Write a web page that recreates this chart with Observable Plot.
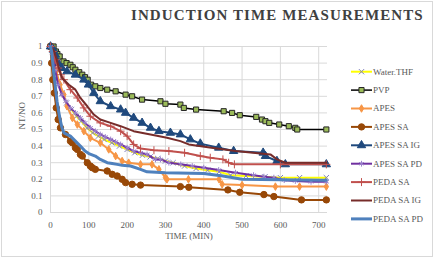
<!DOCTYPE html>
<html><head><meta charset="utf-8">
<script src="https://cdn.jsdelivr.net/npm/d3@7"></script>
<script src="https://cdn.jsdelivr.net/npm/@observablehq/plot@0.6"></script>
<style>
html,body{margin:0;padding:0;background:#fff;}
#wrap{position:relative;width:435px;height:259px;overflow:hidden;}
#border{position:absolute;left:1px;top:1px;width:432px;height:256px;border:1px solid #d9d9d9;box-sizing:border-box;pointer-events:none;}
#title{position:absolute;left:131px;top:7px;font:bold 15px "Liberation Serif",serif;letter-spacing:1.1px;color:#404040;white-space:nowrap;}
#legend{position:absolute;left:0;top:0;}
</style></head><body>
<div id="wrap"><div id="chart"></div><div id="border"></div><div id="title">INDUCTION TIME MEASUREMENTS</div></div>
<script>
const seriesNames = ["Water.THF","PVP","APES","APES SA","APES SA IG","APES SA PD","PEDA SA","PEDA SA IG","PEDA SA PD"];
const xTicks = [0,100,200,300,400,500,600,700];
const yTicks = [0,0.1,0.2,0.3,0.4,0.5,0.6,0.7,0.8,0.9,1];

const waterT = [0,5,12,20,30,42,55,68,80,95,110,125,140,160,180,200,220,240,260,280,300,320,350,380,410,440,470,510,560,600,650,720];
const waterV = [1,0.97,0.88,0.79,0.72,0.66,0.62,0.58,0.55,0.51,0.48,0.46,0.44,0.42,0.40,0.38,0.36,0.345,0.335,0.325,0.31,0.30,0.28,0.265,0.255,0.245,0.225,0.22,0.215,0.21,0.21,0.21];

const pvpT = [0,8,14,18,24,34,42,52,58,65,75,83,90,97,106,117,130,148,170,196,213,239,287,300,339,348,380,452,474,494,537,552,561,571,597,622,639,644,720];
const pvpV = [1,1,0.97,0.955,0.94,0.91,0.90,0.89,0.875,0.86,0.845,0.83,0.815,0.80,0.77,0.76,0.75,0.74,0.73,0.71,0.70,0.68,0.67,0.655,0.65,0.63,0.62,0.61,0.60,0.586,0.576,0.56,0.55,0.54,0.53,0.52,0.51,0.50,0.50];

const apesT = [0,5,15,25,35,43,57,70,87,104,130,152,170,187,204,235,265,283,300,304,360,440,448,500,587,650,720];
const apesV = [1,0.95,0.85,0.77,0.71,0.64,0.57,0.53,0.49,0.45,0.42,0.38,0.34,0.31,0.30,0.29,0.29,0.26,0.21,0.20,0.20,0.20,0.17,0.165,0.156,0.156,0.156];

const apesSaT = [0,3,6,10,15,20,26,39,52,57,65,70,78,83,96,104,109,117,148,161,174,187,196,213,235,339,361,463,494,557,583,655,720];
const apesSaV = [1,0.9,0.8,0.72,0.63,0.56,0.51,0.47,0.43,0.42,0.39,0.38,0.35,0.34,0.30,0.28,0.27,0.26,0.25,0.23,0.22,0.20,0.18,0.17,0.165,0.156,0.152,0.136,0.122,0.108,0.096,0.076,0.076];

const apesSaIgT = [0,8,13,20,30,43,65,87,99,113,130,157,183,196,217,239,261,283,313,339,365,391,439,478,555,561,591,613,720];
const apesSaIgV = [1,0.98,0.95,0.9,0.87,0.85,0.83,0.80,0.77,0.72,0.67,0.64,0.62,0.60,0.57,0.54,0.51,0.49,0.48,0.47,0.44,0.415,0.39,0.37,0.36,0.34,0.31,0.29,0.29];

const apesSaPdT = [0,5,12,20,30,40,52,65,78,90,104,117,130,143,157,170,183,200,217,235,252,274,287,309,340,370,400,439,483,530,557,583,610,639,680,720];
const apesSaPdV = [1,0.96,0.86,0.77,0.71,0.67,0.63,0.60,0.57,0.54,0.51,0.49,0.47,0.455,0.44,0.425,0.41,0.39,0.37,0.36,0.35,0.32,0.32,0.30,0.29,0.28,0.27,0.256,0.24,0.225,0.216,0.21,0.195,0.19,0.185,0.185];

const pedaSaT = [0,6,12,20,27,35,52,70,87,104,130,157,183,200,217,235,270,309,350,391,417,450,465,480,600,720];
const pedaSaV = [1,0.97,0.92,0.87,0.83,0.80,0.74,0.69,0.63,0.58,0.54,0.52,0.49,0.46,0.41,0.385,0.375,0.37,0.36,0.34,0.33,0.32,0.30,0.29,0.29,0.29];

const pedaSaIgT = [0,8,15,22,30,48,65,78,96,113,130,157,183,217,261,304,339,361,420,483,574,591,613,720];
const pedaSaIgV = [1,0.98,0.93,0.87,0.81,0.77,0.74,0.69,0.64,0.59,0.56,0.54,0.52,0.49,0.47,0.45,0.43,0.41,0.39,0.37,0.35,0.32,0.30,0.30];

const pedaSaPdT = [0,3,6,9,13,17,22,26,30,35,52,65,78,90,100,117,130,148,161,174,187,209,235,252,300,400,450,500,600,720];
const pedaSaPdV = [1,0.97,0.9,0.83,0.75,0.67,0.6,0.55,0.51,0.48,0.46,0.43,0.40,0.37,0.355,0.34,0.32,0.30,0.295,0.29,0.285,0.28,0.26,0.245,0.24,0.235,0.22,0.2,0.198,0.195];

const dataT = [waterT,pvpT,apesT,apesSaT,apesSaIgT,apesSaPdT,pedaSaT,pedaSaIgT,pedaSaPdT];
const dataV = [waterV,pvpV,apesV,apesSaV,apesSaIgV,apesSaPdV,pedaSaV,pedaSaIgV,pedaSaPdV];

const styles = [
  {color:"#FFFF00", sw:2, symbol:"times", mfill:"none", mstroke:"#8080c0", r:2.5},
  {color:"#000000", sw:1.5, symbol:"square", mfill:"#9BBB59", mstroke:"#262626", r:2.9},
  {color:"#F79646", sw:2, symbol:"diamond", mfill:"#F79646", mstroke:"#F79646", r:2.3},
  {color:"#984807", sw:2, symbol:"circle", mfill:"#984807", mstroke:"#984807", r:3.2},
  {color:"#1F497D", sw:2, symbol:"triangle", mfill:"#1F497D", mstroke:"#1F497D", r:3.1},
  {color:"#7030A0", sw:2, symbol:"asterisk", mfill:"none", mstroke:"#9b82cc", r:2.7},
  {color:"#C0504D", sw:2, symbol:"plus", mfill:"none", mstroke:"#C0504D", r:2.7},
  {color:"#772C2A", sw:2, symbol:null},
  {color:"#4F81BD", sw:3, symbol:null}
];

const rows = seriesNames.map((name,i) => dataT[i].map((t,j) => ({series:name, t, v:dataV[i][j]})));

const marks = [
  Plot.ruleX(xTicks, {stroke:"#d9d9d9", strokeWidth:1}),
  Plot.ruleY(yTicks, {stroke:"#d9d9d9", strokeWidth:1}),
  Plot.axisX(xTicks, {tickSize:0, tickPadding:9, label:null, fill:"#595959"}),
  Plot.axisY(yTicks, {tickSize:0, tickPadding:8, label:null, fill:"#595959", tickFormat:d => String(+d.toFixed(1))}),
  Plot.text(["TIME (MIN)"], {frameAnchor:"bottom", dy:26, fill:"#595959"}),
  Plot.text(["NT/NO"], {frameAnchor:"left", dx:-28, rotate:-90, fill:"#595959"})
];
rows.forEach((r,i) => {
  const s = styles[i];
  marks.push(Plot.line(r, {x:"t", y:"v", stroke:s.color, strokeWidth:s.sw, strokeLinejoin:"round"}));
  if (s.symbol) marks.push(Plot.dot(r, {x:"t", y:"v", symbol:s.symbol, r:s.r, fill:s.mfill, stroke:s.mstroke, strokeWidth:1}));
});

const chart = Plot.plot({
  width:435, height:259,
  marginLeft:50, marginRight:108, marginTop:46, marginBottom:47,
  style:{fontFamily:"'Liberation Serif', serif", fontSize:"9px", background:"transparent"},
  x:{domain:[0,723]},
  y:{domain:[0,1]},
  marks
});
document.getElementById("chart").appendChild(chart);

// legend
const leg = d3.select("#wrap").append("svg").attr("id","legend").attr("width",435).attr("height",259);
seriesNames.forEach((name,i) => {
  const s = styles[i];
  const y = 71.7 + i*18.4;
  const g = leg.append("g");
  g.append("line").attr("x1",351).attr("x2",372).attr("y1",y).attr("y2",y).attr("stroke",s.color).attr("stroke-width",s.sw);
  if (s.symbol) {
    const map = {times:d3.symbolTimes, square:d3.symbolSquare, diamond:d3.symbolDiamond, circle:d3.symbolCircle, triangle:d3.symbolTriangle, asterisk:d3.symbolAsterisk, plus:d3.symbolPlus};
    g.append("path").attr("transform",`translate(361.5,${y})`)
      .attr("d", d3.symbol(map[s.symbol], Math.PI*s.r*s.r)())
      .attr("fill", s.mfill).attr("stroke", s.mstroke).attr("stroke-width",1);
  }
  g.append("text").attr("x",373).attr("y",y).attr("dy","0.32em")
    .attr("font-family","'Liberation Serif', serif").attr("font-size",9).attr("fill","#595959").text(name);
});
</script>
</body></html>
